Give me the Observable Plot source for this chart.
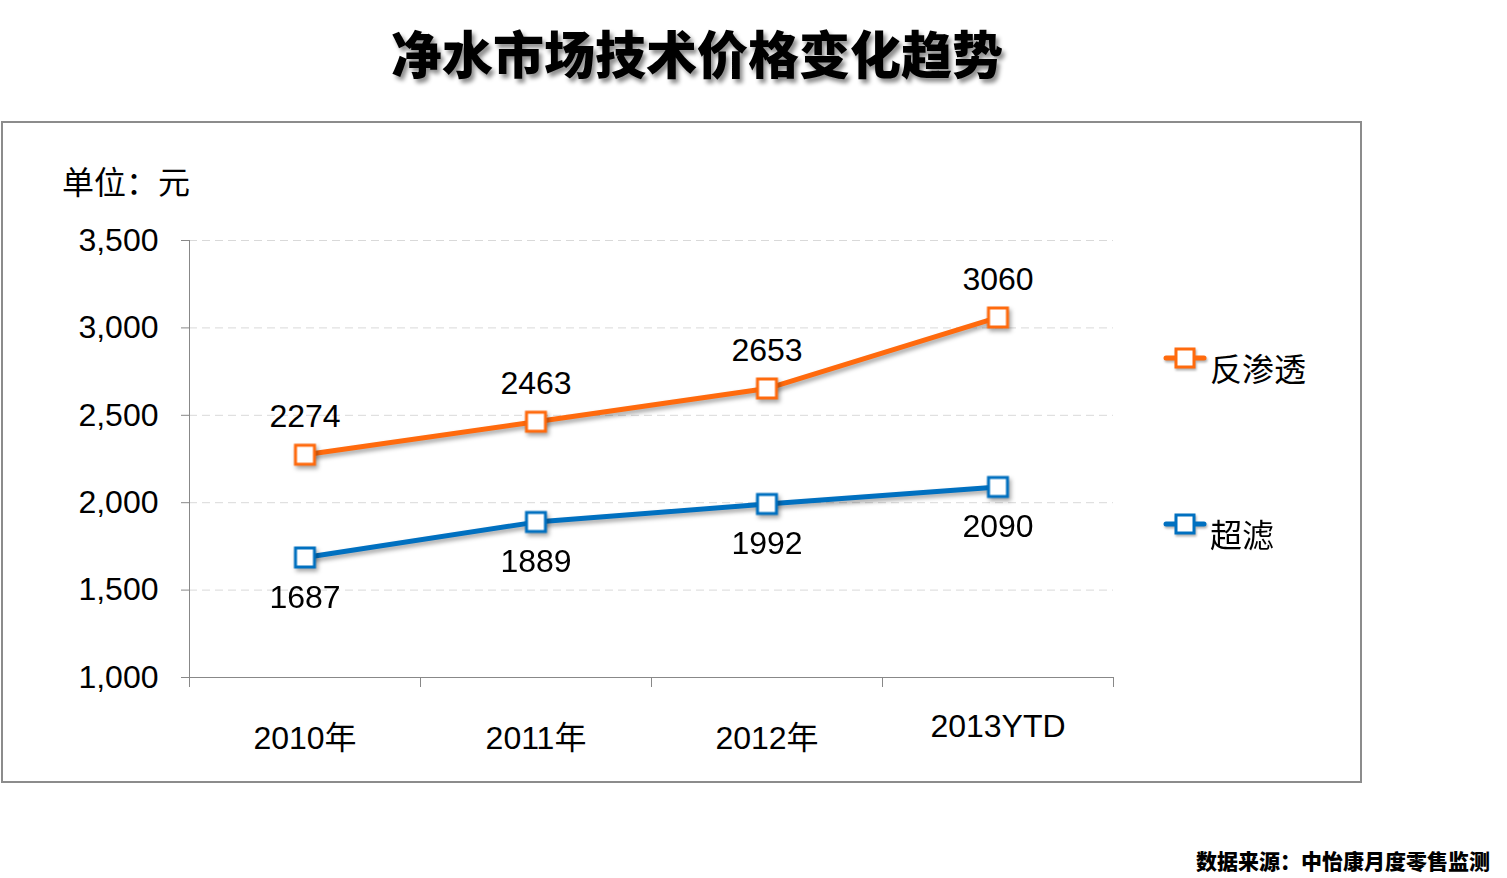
<!DOCTYPE html>
<html><head><meta charset="utf-8">
<script src="https://cdn.jsdelivr.net/npm/d3@7"></script>
<script src="https://cdn.jsdelivr.net/npm/@observablehq/plot@0.6"></script>
<style>
body{margin:0;background:#fff;}
#wrap{position:relative;width:1507px;height:878px;overflow:hidden;font-family:"Liberation Sans",Arial,"Noto Sans CJK SC",sans-serif;color:#000;}
#title{position:absolute;left:0;width:1394px;top:22px;text-align:center;font-family:"Noto Sans CJK SC",sans-serif;font-weight:900;font-size:51px;line-height:60px;text-shadow:3px 4px 4px rgba(0,0,0,0.45);}
#frame{position:absolute;left:1px;top:121px;width:1361px;height:662px;border:2px solid #8c8c8c;box-sizing:border-box;}
#unit{position:absolute;left:62px;top:164px;font-size:32px;line-height:38px;font-family:"Liberation Sans","Noto Sans CJK SC",sans-serif;}
#chart{position:absolute;left:0;top:0;}
.leg{position:absolute;left:1163px;display:flex;align-items:flex-start;font-size:32px;line-height:38px;font-family:"Noto Sans CJK SC",sans-serif;}
.leg span{margin-left:3px;margin-top:8px;}
#src{position:absolute;right:17px;top:846px;font-family:"Noto Sans CJK SC",serif;font-weight:900;font-size:21px;line-height:28px;}
g[aria-label="line"], g[aria-label="dot"]{filter:drop-shadow(2px 3px 2px rgba(0,0,0,0.35));}
</style>
</head>
<body>
<div id="wrap">
  <div id="title">净水市场技术价格变化趋势</div>
  <div id="frame"></div>
  <div id="unit">单位：元</div>
  <div id="chart"></div>
  <div class="leg" id="leg0"></div>
  <div class="leg" id="leg1"></div>
  <div id="src">数据来源：中怡康月度零售监测</div>
</div>
<script>
const years = ["2010年", "2011年", "2012年", "2013YTD"];
const reverseOsmosis = [2274, 2463, 2653, 3060];
const ultrafiltration = [1687, 1889, 1992, 2090];
const seriesNames = ["反渗透", "超滤"];
const seriesColors = ["#FF6A0D", "#0070C0"];
const yTicks = [1000, 1500, 2000, 2500, 3000, 3500];

const tbl = years.map((yr, i) => ({x: i + 0.5, year: yr, ro: reverseOsmosis[i], uf: ultrafiltration[i]}));
const boundaries = d3.range(years.length + 1);

const plot = Plot.plot({
  width: 1507,
  height: 878,
  marginLeft: 189,
  marginRight: 394,
  marginTop: 240,
  marginBottom: 201,
  style: {background: "transparent", fontFamily: "'Liberation Sans', Arial, 'Noto Sans CJK SC', sans-serif", fontSize: "32px", color: "#000", overflow: "visible"},
  x: {domain: [0, years.length], label: null},
  y: {domain: [1000, 3500], label: null},
  marks: [
    Plot.gridY(yTicks.slice(1), {stroke: "#d9d9d9", strokeOpacity: 1, strokeDasharray: "8,5", strokeWidth: 1}),
    Plot.ruleX([0], {y1: 1000, y2: 3500, stroke: "#888"}),
    Plot.ruleY([1000], {stroke: "#888"}),
    Plot.axisY({ticks: yTicks, tickFormat: d3.format(","), tickSize: 8, tickPadding: 23, stroke: "#888", fill: "#000", fontSize: 32}),
    Plot.axisX({ticks: boundaries, tickFormat: () => "", tickSize: 10, stroke: "#888"}),
    Plot.axisX({ticks: tbl.slice(0, 3).map(d => d.x), tickFormat: v => years[Math.floor(v)], tickSize: 0, tickPadding: 49, fill: "#000", fontSize: 32}),
    Plot.axisX({ticks: tbl.slice(3).map(d => d.x), tickFormat: v => years[Math.floor(v)], tickSize: 0, tickPadding: 37, fill: "#000", fontSize: 32}),
    Plot.line(tbl, {x: "x", y: "ro", stroke: seriesColors[0], strokeWidth: 5}),
    Plot.line(tbl, {x: "x", y: "uf", stroke: seriesColors[1], strokeWidth: 5}),
    Plot.dot(tbl, {x: "x", y: "ro", symbol: "square", r: 10.7, fill: "white", stroke: seriesColors[0], strokeWidth: 3}),
    Plot.dot(tbl, {x: "x", y: "uf", symbol: "square", r: 10.7, fill: "white", stroke: seriesColors[1], strokeWidth: 3}),
    Plot.text(tbl, {x: "x", y: "ro", text: d => String(d.ro), dy: -38, fill: "#000", fontSize: 32}),
    Plot.text(tbl, {x: "x", y: "uf", text: d => String(d.uf), dy: 40, fill: "#000", fontSize: 32})
  ]
});
document.getElementById("chart").appendChild(plot);

// legend
const legTops = [340, 506];
seriesNames.forEach((name, i) => {
  const el = document.getElementById("leg" + i);
  el.style.top = legTops[i] + "px";
  el.innerHTML = `<svg width="44" height="36" style="filter:drop-shadow(1px 2px 1px rgba(0,0,0,0.3))"><line x1="3" x2="41" y1="18" y2="18" stroke="${seriesColors[i]}" stroke-width="5" stroke-linecap="round"/><rect x="13" y="9" width="18" height="18" fill="white" stroke="${seriesColors[i]}" stroke-width="3"/></svg><span>${name}</span>`;
});
</script>
</body></html>
